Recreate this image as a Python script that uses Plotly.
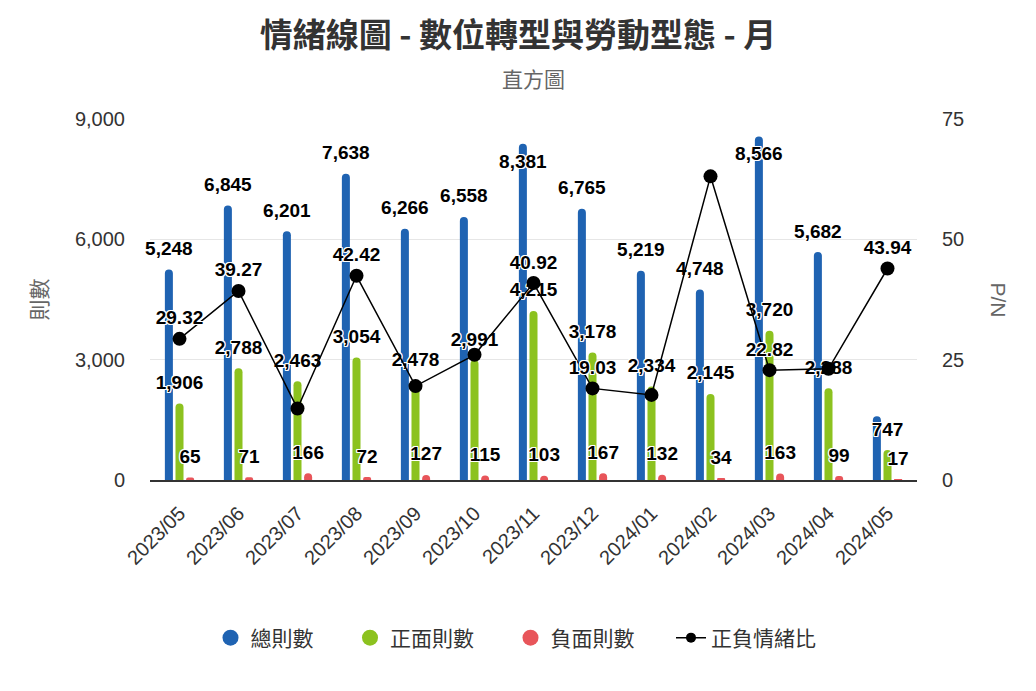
import plotly.graph_objects as go

months = ["2023/05", "2023/06", "2023/07", "2023/08", "2023/09", "2023/10", "2023/11",
          "2023/12", "2024/01", "2024/02", "2024/03", "2024/04", "2024/05"]
total = [5248, 6845, 6201, 7638, 6266, 6558, 8381, 6765, 5219, 4748, 8566, 5682, 1590]
positive = [1906, 2788, 2463, 3054, 2478, 2991, 4215, 3178, 2334, 2145, 3720, 2288, 747]
negative = [65, 71, 166, 72, 127, 115, 103, 167, 132, 34, 163, 99, 17]
ratio = [29.32, 39.27, 14.84, 42.42, 19.51, 26.01, 40.92, 19.03, 17.68, 63.09, 22.82, 23.11, 43.94]

# labels hidden in the reference because of overlap / drawn inside the bar
total_hidden = [12]
total_inside = [6, 10]
ratio_hidden = [2, 4, 5, 8, 9, 11]

LATIN = "Liberation Sans, Arial, Helvetica"
CJK = "Noto Sans CJK TC"
FONT = f"{LATIN}, {CJK}, sans-serif"
TFONT = f"{CJK}, {LATIN}, sans-serif"
BLUE = "#1f63b2"
GREEN = "#8cc21f"
RED = "#e8555a"
OUTLINE = ("1px 1px 0 #fff, -1px -1px 0 #fff, 1px -1px 0 #fff, -1px 1px 0 #fff, "
           "0 1px 0 #fff, 0 -1px 0 #fff, 1px 0 0 #fff, -1px 0 0 #fff")
label_font = dict(family=FONT, size=19, color="#000", weight="bold", shadow=OUTLINE)

BAR_W = 0.136
SHIFT = 0.18
idx = list(range(len(months)))


def labels(vals, hidden=(), fmt="{:,}"):
    return ["" if i in hidden else fmt.format(v) for i, v in enumerate(vals)]


fig = go.Figure()
series = [("總則數", total, BLUE, -SHIFT, total_hidden, total_inside),
          ("正面則數", positive, GREEN, 0.0, [], []),
          ("負面則數", negative, RED, SHIFT, [], [])]
for name, vals, color, sh, hid, inside in series:
    fig.add_trace(go.Bar(
        x=idx, y=vals, name=name, width=BAR_W, offset=sh - BAR_W / 2,
        marker=dict(color=color, line=dict(width=0)), showlegend=False,
        hovertemplate=name + ": %{y:,}<extra></extra>"))
for name, vals, color, sh, hid, inside in series:
    fig.add_trace(go.Scatter(
        x=[i + sh for i in idx], y=vals, mode="markers+text",
        marker=dict(size=14, opacity=0), text=labels(vals, hid),
        textposition=["bottom center" if i in inside else "top center" for i in idx],
        textfont=label_font, cliponaxis=False, showlegend=False, hoverinfo="skip"))

fig.add_trace(go.Scatter(
    x=idx, y=ratio, yaxis="y2", name="正負情緒比", mode="lines+markers+text",
    line=dict(color="#000", width=1.5), marker=dict(color="#000", size=14),
    text=labels(ratio, ratio_hidden, "{:.2f}"), textposition="top center",
    textfont=label_font, cliponaxis=False, showlegend=False,
    hovertemplate="正負情緒比: %{y:.2f}<extra></extra>"))

# legend entries (circle symbols as in reference)
PAD = "\u2003\u2002"
for name, color in [("總則數", BLUE), ("正面則數", GREEN), ("負面則數", RED)]:
    fig.add_trace(go.Scatter(x=[None], y=[None], mode="markers", name=name + PAD,
                             marker=dict(color=color, size=22, symbol="circle")))
fig.add_trace(go.Scatter(x=[None], y=[None], mode="lines+markers", name="正負情緒比",
                         line=dict(color="#000", width=1.5),
                         marker=dict(color="#000", size=10)))

fig.update_layout(
    width=1036, height=691,
    margin=dict(l=150, r=119, t=119, b=211, autoexpand=False),
    paper_bgcolor="#fff", plot_bgcolor="#fff",
    font=dict(family=FONT, color="#333"),
    barmode="overlay", barcornerradius=4,
    title=dict(text="<b>情緒線圖 - 數位轉型與勞動型態 - 月</b>", x=0.5, xanchor="center",
               y=1 - 35 / 691, yanchor="middle",
               font=dict(size=33, color="#333", family=TFONT)),
    xaxis=dict(range=[-0.5, len(months) - 0.5], tickvals=idx, ticktext=months,
               tickangle=-45, tickfont=dict(size=20, color="#333"),
               showgrid=False, showline=True, linecolor="#333", linewidth=1.5,
               ticks="", zeroline=False, automargin=False, ticklabelstandoff=12),
    yaxis=dict(range=[0, 9000], tickvals=[0, 3000, 6000, 9000], tickformat=",",
               tickfont=dict(size=20, color="#333"), gridcolor="#e6e6e6",
               zeroline=False, ticklabelstandoff=24, automargin=False),
    yaxis2=dict(range=[0, 75], tickvals=[0, 25, 50, 75], overlaying="y", side="right",
                tickfont=dict(size=20, color="#333"), showgrid=False, zeroline=False,
                ticklabelstandoff=24, automargin=False),
    legend=dict(orientation="h", x=(516 - 150) / 767, xanchor="center",
                y=(480 - 638) / 361, yanchor="middle",
                font=dict(size=21, color="#333", family=TFONT), itemwidth=30),
    annotations=[
        dict(text="直方圖", xref="paper", yref="paper", x=0.5, y=1.0, yshift=41,
             yanchor="middle", showarrow=False,
             font=dict(size=21, color="#666", family=TFONT)),
        dict(text="則數", xref="paper", yref="paper", x=(37 - 150) / 767, y=0.5,
             textangle=-90, showarrow=False, xanchor="center", yanchor="middle",
             font=dict(size=21, color="#666", family=TFONT)),
        dict(text="P/N", xref="paper", yref="paper", x=(998 - 150) / 767, y=0.5,
             textangle=90, showarrow=False, xanchor="center", yanchor="middle",
             font=dict(size=21, color="#666", family=FONT)),
    ],
)

fig.write_html("out.html", config={"displayModeBar": False},
               post_script="document.body.style.margin='0';")
